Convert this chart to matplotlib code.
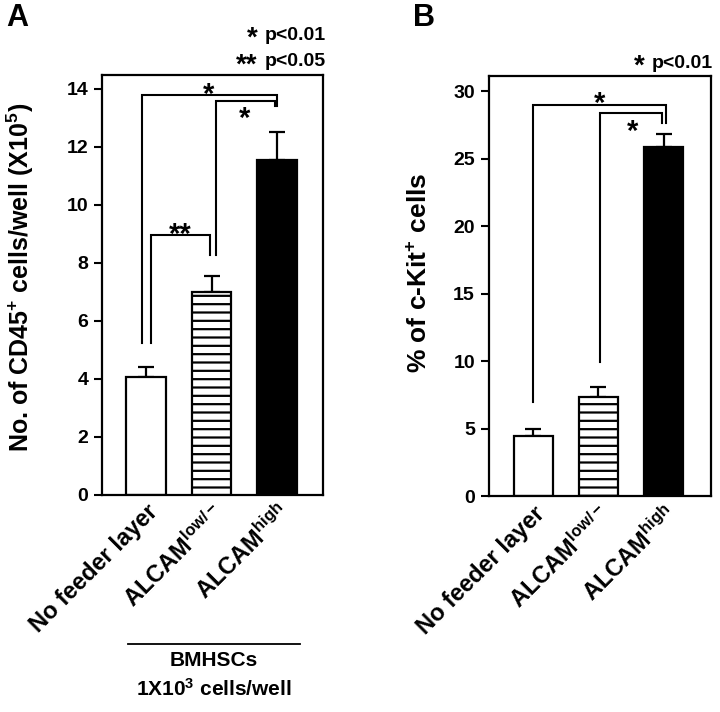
import matplotlib
matplotlib.use("Agg")
import matplotlib.pyplot as plt
from matplotlib.lines import Line2D

plt.rcParams['font.family'] = ['Liberation Sans', 'DejaVu Sans']
plt.rcParams['font.weight'] = 'bold'
plt.rcParams['mathtext.fontset'] = 'custom'
plt.rcParams['mathtext.rm'] = 'Liberation Sans:bold'
plt.rcParams['mathtext.bf'] = 'Liberation Sans:bold'
plt.rcParams['mathtext.it'] = 'Liberation Sans:bold'
plt.rcParams['mathtext.default'] = 'bf'
plt.rcParams['hatch.linewidth'] = 1.6

# data
groups = ['No feeder layer', r'ALCAM$^{low/-}$', r'ALCAM$^{high}$']
cd45_mean = [4.07, 7.0, 11.55]
cd45_err = [0.34, 0.55, 0.97]
ckit_mean = [4.44, 7.33, 25.85]
ckit_err = [0.56, 0.77, 0.95]

fills = ['white', 'white', 'black']
hatches = ['', '--', '']


def draw_bars(ax, mean, err):
    x = range(len(mean))
    for i in x:
        ax.bar(i, mean[i], width=0.6, color=fills[i], edgecolor='black',
               linewidth=1.6, hatch=hatches[i], zorder=2)
    ax.errorbar(list(x), mean, yerr=[[0] * len(err), err], fmt='none',
                ecolor='black', elinewidth=1.6, capsize=5.5, capthick=1.6, zorder=1)
    ax.set_xticks(list(x))
    ax.set_xticklabels(groups, rotation=45, ha='right', va='top',
                       rotation_mode='anchor', fontsize=17, fontweight='bold')
    ax.tick_params(axis='x', length=0, pad=4)
    ax.tick_params(axis='y', direction='out', length=6, width=1.5,
                   labelsize=14, pad=4)
    for s in ax.spines.values():
        s.set_linewidth(1.6)


def bracket(ax, x1, x2, y, y1_end, y2_end):
    ax.plot([x1, x1, x2, x2], [y1_end, y, y, y2_end], color='black', lw=1.5,
            solid_joinstyle='miter', zorder=3)


def star(ax, x, y, s='*'):
    ax.text(x, y, s, ha='center', va='center', fontsize=21, fontweight='bold')


fig = plt.figure(figsize=(7.2, 7.12), dpi=100)

# panel A
axA = fig.add_axes([0.1417, 0.3048, 0.307, 0.59])
draw_bars(axA, cd45_mean, cd45_err)
axA.set_xlim(-0.67, 2.7)
axA.set_ylim(0, 14.48)
axA.set_yticks(range(0, 15, 2))
axA.set_ylabel(r'No. of CD45$^{+}$ cells/well (X10$^{5}$)', fontsize=18,
               fontweight='bold')
axA.yaxis.set_label_coords(-0.30, 0.517)
bracket(axA, -0.06, 2.0, 13.79, 5.24, 13.41)
bracket(axA, 1.07, 1.96, 13.59, 8.28, 13.41)
bracket(axA, 0.08, 0.98, 8.97, 5.24, 8.28)
star(axA, 0.96, 13.8)
star(axA, 1.51, 12.95)
star(axA, 0.53, 8.98, '**')

# panel B
axB = fig.add_axes([0.679, 0.303, 0.308, 0.59])
draw_bars(axB, ckit_mean, ckit_err)
axB.set_xlim(-0.68, 2.72)
axB.set_ylim(0, 31.1)
axB.set_yticks(range(0, 31, 5))
axB.set_ylabel(r'% of c-Kit$^{+}$ cells', fontsize=19, fontweight='bold')
axB.yaxis.set_label_coords(-0.257, 0.533)
bracket(axB, 0.0, 2.03, 28.96, 6.96, 27.63)
bracket(axB, 1.02, 1.98, 28.37, 9.93, 27.63)
star(axB, 1.02, 29.05)
star(axB, 1.53, 27.0)

# panel letters
fig.text(0.008, 0.975, 'A', fontsize=22, fontweight='bold', va='center')
fig.text(0.573, 0.975, 'B', fontsize=22, fontweight='bold', va='center')

# significance keys
key_y = [1 - 35 / 712, 1 - 62 / 712, 1 - 63 / 712]
key_x = [0.452, 0.452, 0.990]
key_star = ['*', '**', '*']
key_text = ['p<0.01', 'p<0.05', 'p<0.01']
for kx, ky, ks, kt in zip(key_x, key_y, key_star, key_text):
    fig.text(kx, ky, kt, fontsize=14, fontweight='bold', ha='right',
             va='center')
    fig.text(kx - 0.094, ky - 0.005, ks, fontsize=20, fontweight='bold',
             ha='right', va='center')

# BMHSCs group label under panel A
fig.add_artist(Line2D([128 / 720, 300 / 720], [1 - 644 / 712, 1 - 644 / 712],
                      color='black', lw=1.3))
fig.text(214 / 720, 1 - 661 / 712, 'BMHSCs', fontsize=15, fontweight='bold',
         ha='center', va='center')
fig.text(214 / 720, 1 - 689 / 712, r'1X10$^{3}$ cells/well', fontsize=15,
         fontweight='bold', ha='center', va='center')

fig.savefig('out.png', dpi=100)
